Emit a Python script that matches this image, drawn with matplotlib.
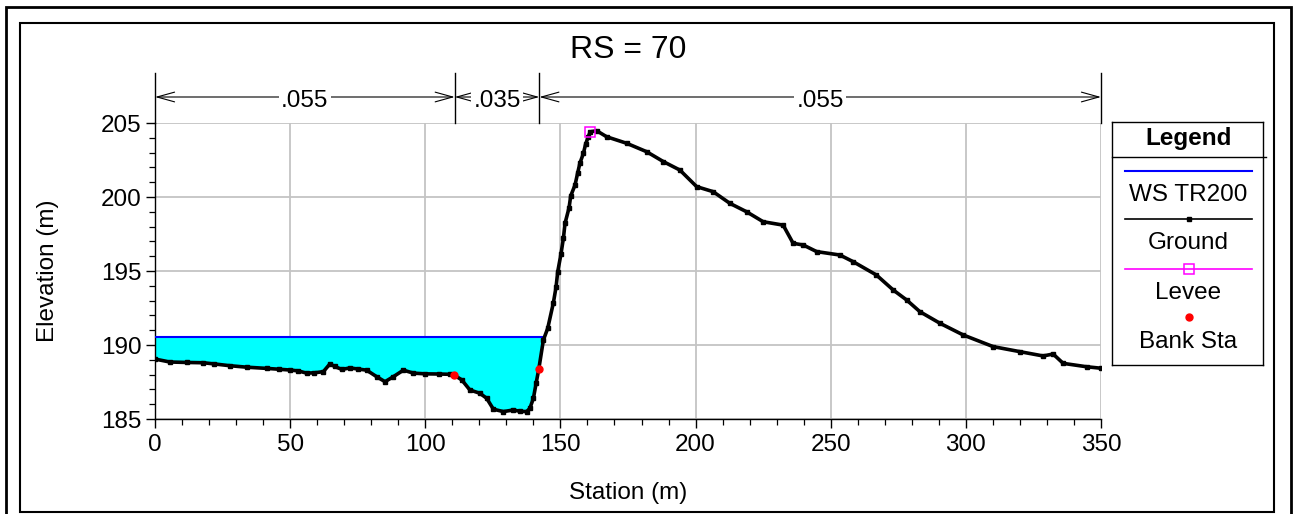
import numpy as np
import matplotlib.pyplot as plt
from matplotlib.patches import Rectangle

plt.rcParams['font.family'] = ['Liberation Sans', 'DejaVu Sans']

# ground profile
station = [0.0, 5.5, 12.0, 17.9, 22.0, 27.7, 34.0, 41.3, 46.0, 49.9,
           53.0, 56.1, 59.0, 62.3, 64.7, 66.5, 69.1, 72.1, 75.0, 78.3,
           82.0, 85.1, 88.2, 91.9, 95.6, 100.0, 105.0, 109.1, 110.7, 113.5,
           116.5, 120.2, 122.7, 125.2, 128.9, 132.6, 135.0, 137.5, 138.7, 140.0,
           141.0, 142.0, 143.7, 145.3, 147.4, 148.4, 149.0, 150.2, 151.1, 151.7,
           153.2, 153.8, 155.4, 156.4, 157.2, 158.5, 159.3, 160.3, 161.0, 163.4,
           167.1, 174.5, 181.9, 188.1, 194.2, 200.4, 206.5, 212.7, 218.9, 225.0,
           232.4, 236.1, 239.8, 244.8, 253.4, 258.3, 266.9, 273.1, 278.1, 283.0,
           290.4, 299.0, 310.1, 320.0, 328.6, 332.3, 336.0, 344.7, 350.0]
elevation = [189.05, 188.85, 188.82, 188.80, 188.72, 188.60, 188.50, 188.42, 188.36, 188.31,
             188.25, 188.10, 188.12, 188.20, 188.72, 188.55, 188.35, 188.45, 188.38, 188.30,
             187.86, 187.52, 187.86, 188.30, 188.10, 188.05, 188.04, 188.02, 187.97, 187.64,
             186.96, 186.74, 186.40, 185.66, 185.50, 185.61, 185.52, 185.50, 185.72, 186.40,
             187.41, 188.38, 190.34, 191.13, 192.86, 193.94, 194.95, 196.15, 197.21, 198.22,
             199.28, 200.07, 200.81, 201.64, 202.28, 202.95, 203.56, 204.07, 204.40, 204.48,
             204.07, 203.63, 203.06, 202.39, 201.82, 200.70, 200.36, 199.57, 199.00, 198.33,
             198.10, 196.87, 196.76, 196.31, 196.08, 195.63, 194.73, 193.72, 193.04, 192.25,
             191.47, 190.68, 189.89, 189.55, 189.26, 189.39, 188.76, 188.53, 188.43]

ws_elev = 190.54
levee_sta = [161.0]
levee_elev = [204.4]
bank_sta = [110.6, 141.9]
bank_elev = [187.97, 188.36]
n_values = ['.055', '.035', '.055']
n_bounds = [0, 110.9, 142.2, 350]
title = 'RS = 70'

W, H = 1294, 514
FS = 17.5
fig = plt.figure(figsize=(W / 100, H / 100), dpi=100)
ax = fig.add_axes([155 / W, 1 - 419 / H, 946 / W, 296 / H])

st = np.array(station)
el = np.array(elevation)

# water surface ends where it meets the right bank
i = np.argmax((st > 140) & (el > ws_elev))
ws_end = np.interp(ws_elev, el[i - 1:i + 1], st[i - 1:i + 1])
wet = st <= ws_end
xs = np.append(st[wet], ws_end)
ys = np.append(el[wet], ws_elev)
ax.fill_between(xs, ys, ws_elev, color='#00ffff', lw=0, zorder=2)
ax.plot([0, ws_end], [ws_elev, ws_elev], color='#0000ff', lw=1.5, zorder=3)

ax.plot(st, el, color='black', lw=2.6, marker='s', ms=3.4, zorder=4)
ax.plot(levee_sta, levee_elev, 's', mfc='none', mec='#ff00ff', ms=7, mew=1.1, zorder=5)
ax.plot(bank_sta, bank_elev, 'o', color='#ff0000', ms=5, zorder=6)

ax.set_xlim(0, 350)
ax.set_ylim(185, 205)
ax.set_xticks(np.arange(0, 351, 50))
ax.set_xticks(np.arange(0, 351, 10), minor=True)
ax.set_yticks(np.arange(185, 206, 5))
ax.set_yticks(np.arange(185, 206, 1), minor=True)
ax.grid(True, which='major', color='#c4c4c4', lw=1.3, zorder=0)
ax.set_axisbelow(True)
for s in ['top', 'right']:
    ax.spines[s].set_visible(False)
for s in ['left', 'bottom']:
    ax.spines[s].set_linewidth(1.0)
ax.tick_params(which='major', direction='out', length=6.5, width=1, labelsize=FS)
ax.tick_params(which='minor', direction='out', length=4, width=0.9)
ax.tick_params(axis='x', which='major', pad=4)
ax.tick_params(axis='y', which='major', pad=3)

# Manning's n ranges above the plot
top = 205
bar_y = top + 26 / 14.8
line_top = top + 50 / 14.8
for b in n_bounds:
    ax.plot([b, b], [top, line_top], color='black', lw=1.0, clip_on=False)
for k, n in enumerate(n_values):
    a, b = n_bounds[k], n_bounds[k + 1]
    ax.annotate('', xy=(a, bar_y), xytext=(b, bar_y), annotation_clip=False,
                arrowprops=dict(arrowstyle='<->,head_length=0.9,head_width=0.25',
                                color='black', lw=0.8, shrinkA=0, shrinkB=0,
                                mutation_scale=14))
    ax.text((a + b) / 2, bar_y - 0.25, n, ha='center', va='center', fontsize=FS,
            bbox=dict(fc='white', ec='none', pad=1.5), clip_on=False)

fig.text(628 / W, 1 - 50 / H, title, ha='center', va='center', fontsize=23)
fig.text(48 / W, 1 - 271 / H, 'Elevation (m)', ha='center', va='center',
         rotation=90, fontsize=FS)
fig.text(628 / W, 1 - 493 / H, 'Station (m)', ha='center', va='center', fontsize=FS)

# legend box drawn by hand in pixel units
lax = fig.add_axes([1112 / W, 1 - 365 / H, 151 / W, 243 / H])
lax.set_xlim(1112, 1263)
lax.set_ylim(365, 122)
lax.set_xticks([])
lax.set_yticks([])
for s in lax.spines.values():
    s.set_linewidth(1.0)
lax.plot([1112, 1266], [157, 157], color='black', lw=1.0, clip_on=False)
cx = 1188.5
lax.text(cx, 139, 'Legend', ha='center', va='center', fontsize=FS, fontweight='bold')
lax.plot([1125, 1252], [171, 171], color='#0000ff', lw=1.5)
lax.text(cx, 195, 'WS TR200', ha='center', va='center', fontsize=FS)
lax.plot([1125, 1252], [219, 219], color='black', lw=1.2)
lax.plot([cx], [219], 's', color='black', ms=3.4)
lax.text(cx, 243, 'Ground', ha='center', va='center', fontsize=FS)
lax.plot([1125, 1252], [269, 269], color='#ff00ff', lw=1.2)
lax.plot([cx], [269], 's', mfc='none', mec='#ff00ff', ms=7, mew=1.1)
lax.text(cx, 293, 'Levee', ha='center', va='center', fontsize=FS)
lax.plot([cx], [317], 'o', color='#ff0000', ms=5)
lax.text(cx, 342, 'Bank Sta', ha='center', va='center', fontsize=FS)

# outer frames
fig.add_artist(Rectangle((6 / W, -0.02), 1285 / W, 1.02 - 7 / H, transform=fig.transFigure,
                         fill=False, ec='black', lw=2.0))
fig.add_artist(Rectangle((20 / W, 2 / H), 1254 / W, 1 - 25 / H, transform=fig.transFigure,
                         fill=False, ec='black', lw=1.5))

fig.savefig('out.png', dpi=100)
